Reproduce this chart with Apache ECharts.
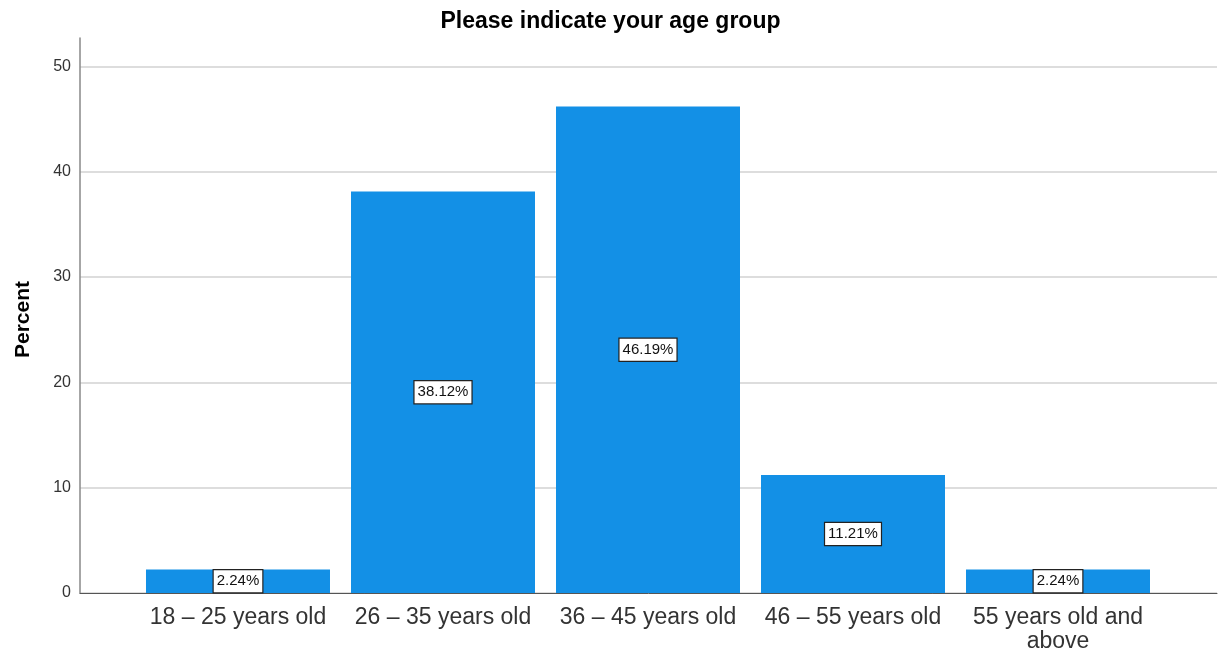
<!DOCTYPE html>
<html>
<head>
<meta charset="utf-8">
<script src="https://cdn.jsdelivr.net/npm/echarts@6/dist/echarts.min.js"></script>
<style>
  html, body { margin: 0; padding: 0; background: #fff; }
  #chart { width: 1221px; height: 654px; }
</style>
</head>
<body>
<div id="chart"></div>
<script>
// Age-group distribution (percent of respondents)
const categories = ['18 – 25 years old', '26 – 35 years old', '36 – 45 years old', '46 – 55 years old', '55 years old and\nabove'];
const percents = [2.24, 38.12, 46.19, 11.21, 2.24];
const yTicks = [0, 10, 20, 30, 40, 50];

const chart = echarts.init(document.getElementById('chart'), null, { renderer: 'canvas' });
const font = 'Arial, "Liberation Sans", sans-serif';

chart.setOption({
  animation: false,
  backgroundColor: '#ffffff',
  title: {
    text: 'Please indicate your age group',
    left: 'center',
    top: 5,
    textStyle: { fontFamily: font, fontSize: 23, fontWeight: 'bold', color: '#000' }
  },
  grid: { left: 80, right: 4, top: 38, bottom: 60 },
  xAxis: {
    type: 'value',
    min: -0.7707,
    max: 4.7756,
    splitLine: { show: false },
    axisTick: { show: false },
    axisLine: { show: true, lineStyle: { color: '#555', width: 1 } },
    axisLabel: {
      customValues: categories.map((c, i) => i),
      formatter: v => categories[Math.round(v)],
      fontFamily: font,
      fontSize: 23,
      color: '#333',
      lineHeight: 24,
      margin: 13,
      verticalAlign: 'top'
    }
  },
  yAxis: {
    type: 'value',
    min: 0,
    max: 52.7,
    interval: 10,
    name: 'Percent',
    nameLocation: 'middle',
    nameRotate: 90,
    nameGap: 46,
    nameTextStyle: { fontFamily: font, fontSize: 21, fontWeight: 'bold', color: '#000', padding: [0, 8, 0, 0] },
    axisLine: { show: true, onZero: false, lineStyle: { color: '#888', width: 1.5 } },
    axisTick: { show: false, customValues: yTicks },
    axisLabel: {
      customValues: yTicks,
      fontFamily: font,
      fontSize: 16,
      color: '#333',
      margin: 9
    },
    splitLine: { show: true, lineStyle: { color: '#d2d2d2', width: 1.5 } }
  },
  series: [{
    type: 'bar',
    barWidth: 184,
    data: percents.map((v, i) => [i, v]),
    itemStyle: { color: '#1390e6' },
    label: {
      show: true,
      position: 'inside',
      formatter: p => p.value[1].toFixed(2) + '%',
      fontFamily: font,
      fontSize: 15,
      color: '#111',
      backgroundColor: '#fff',
      borderColor: '#222',
      borderWidth: 1.2,
      padding: [4, 3, 3, 3]
    }
  }]
});
</script>
</body>
</html>
